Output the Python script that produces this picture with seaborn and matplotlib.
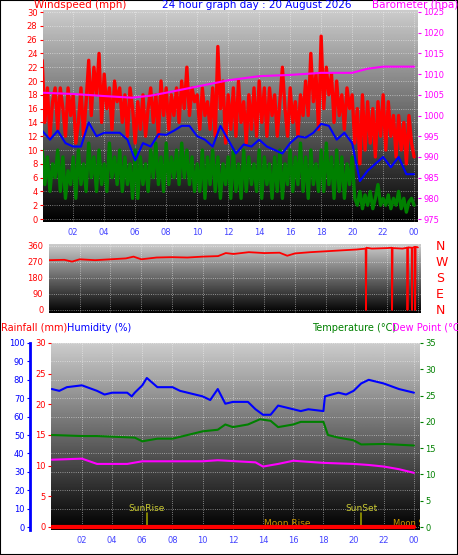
import numpy as np
import pandas as pd
import seaborn as sns
import matplotlib
matplotlib.use("Agg")
import matplotlib.pyplot as plt

sns.set_style("white")
plt.rcParams['font.family'] = ['DejaVu Sans']

# ---- wind / barometer (top panel) ----
avg_hours = np.arange(0, 24.5, 0.5)
avg_wind = [12.8, 11.5, 12.8, 11.0, 10.5, 10.5, 14.0, 12.0, 12.5, 12.5, 12.5, 11.5,
            8.5, 11.0, 10.5, 12.3, 12.2, 12.8, 13.5, 13.5, 12.0, 11.5, 10.5, 13.5,
            11.5, 9.5, 10.8, 10.5, 11.5, 10.5, 10.0, 9.5, 11.0, 12.0, 11.8, 12.5,
            13.8, 13.5, 11.5, 12.5, 11.0, 5.5, 7.0, 8.0, 9.0, 7.5, 9.0, 6.5, 6.5]

# 10 minute samples
wind_hours = np.arange(145) / 6
gust = [23, 14, 19, 12, 17, 19, 13, 19, 16, 12, 19, 15, 18, 11, 14, 19, 12, 17,
        23, 15, 22, 18, 24, 14, 21, 16, 19, 13, 20, 17, 19, 14, 18, 12, 19, 16,
        11, 17, 13, 18, 12, 16, 19, 14, 18, 12, 20, 15, 19, 13, 18, 15, 19, 14,
        20, 16, 22, 15, 19, 17, 18, 13, 19, 15, 17, 13, 19, 12, 25, 16, 20, 11,
        18, 13, 19, 12, 20, 14, 17, 11, 18, 13, 19, 12, 20, 14, 19, 12, 19, 15,
        18, 12, 17, 22, 16, 12, 19, 14, 17, 12, 18, 15, 20, 15, 24, 17, 21, 13,
        26.5, 16, 22, 18, 21, 14, 20, 15, 18, 13, 19, 16, 18, 11, 16, 8, 18, 10,
        17, 11, 16, 9, 17, 12, 18, 10, 17, 12, 15, 9, 15, 10, 14, 8, 15, 11, 9]
speed = [10, 5, 9, 4, 8, 6, 10, 4, 9, 3, 7, 5, 9, 3, 10, 5, 8, 4,
         11, 6, 9, 4, 10, 5, 8, 4, 11, 6, 9, 5, 10, 4, 9, 5, 8, 3,
         10, 3, 9, 5, 8, 4, 10, 6, 11, 5, 9, 4, 11, 5, 9, 6, 10, 5,
         11, 6, 10, 5, 9, 4, 8, 4, 10, 3, 9, 5, 10, 4, 9, 3, 8, 5,
         9, 3, 10, 4, 8, 3, 10, 4, 9, 5, 8, 4, 10, 3, 9, 5, 8, 3,
         9, 4, 10, 3, 8, 5, 10, 4, 9, 5, 11, 4, 9, 3, 10, 5, 8, 4,
         10, 4, 11, 5, 9, 3, 10, 4, 9, 3, 8, 5, 9, 3, 2, 4, 1.5, 3.5,
         2, 4, 1.5, 3, 5, 2, 3, 2, 3.5, 1.5, 3, 2, 4, 1.5, 3, 1, 2.5, 3, 2]

baro_hours = [0, 2, 4, 5.8, 7, 8, 10, 12, 14, 16, 18, 20, 21, 22, 24]
baro = [1005.5, 1005.2, 1004.7, 1004.3, 1004.8, 1005.5, 1007.0, 1008.5, 1009.5,
        1009.8, 1010.3, 1010.3, 1011.3, 1011.8, 1011.8]

# ---- wind direction (middle panel) ----
dir_hours = [0, 1, 1.5, 2, 3, 4, 5, 5.5, 6, 7, 8, 9, 10, 11, 11.5, 12, 13, 14, 15, 15.5,
             16, 17, 18, 19, 20, 20.6, 20.62, 20.65, 21, 22, 22.3, 22.32, 22.35, 23, 23.3,
             23.32, 23.35, 23.6, 23.62, 23.65, 23.8, 23.82, 23.85, 24]
direction = [280, 282, 272, 285, 280, 285, 290, 300, 285, 295, 297, 295, 300, 303, 320,
             315, 325, 320, 322, 305, 318, 325, 330, 335, 340, 345, 0, 350, 345, 348, 350,
             0, 348, 345, 350, 0, 352, 350, 0, 350, 355, 0, 355, 352]

# ---- humidity / temperature / dew point / rain (bottom panel) ----
hum_hours = [0, 0.5, 1, 2, 3, 3.5, 4, 5, 5.3, 5.5, 6, 6.3, 7, 8, 8.5, 9, 10, 10.5, 11, 11.5,
             12, 13, 13.5, 14, 14.5, 15, 16, 16.5, 17, 18, 18.1, 19, 19.5, 20, 20.5, 21,
             22, 23, 24]
humidity = [75, 74, 76, 77, 74, 72, 73, 73, 71, 73, 77, 81, 76, 76, 74, 73, 71, 69, 75, 67,
            68, 68, 64, 61, 61, 66, 64, 63, 64, 63, 71, 73, 72, 74, 78, 80, 78, 75, 73]

temp_hours = [0, 2, 3, 5.5, 6, 7, 8, 9, 10, 11, 11.5, 12, 13, 13.8, 14.5, 15, 16, 16.5,
              18, 18.3, 19, 20, 20.5, 22, 24]
temperature = [17.5, 17.3, 17.3, 17.0, 16.3, 16.8, 16.8, 17.5, 18.2, 18.5, 19.5, 19.0,
               19.5, 20.5, 20.2, 19.0, 19.5, 20.0, 20.0, 17.5, 17.0, 16.5, 15.7, 15.8, 15.5]

dew_hours = [0, 2, 3, 5, 6, 10, 11, 13.5, 14, 15, 16, 18, 20, 21, 22, 23, 24]
dewpoint = [12.8, 13.0, 12.0, 12.0, 12.5, 12.5, 12.7, 12.3, 11.5, 12.0, 12.6, 12.2,
            12.0, 11.8, 11.5, 11.0, 10.3]

rain_hours = [0, 24]
rain = [0, 0]

hour_ticks = list(range(2, 25, 2))
hour_labels = ["%02d" % (h % 24) for h in hour_ticks]

W, H = 458, 555
fig = plt.figure(figsize=(W / 100, H / 100), dpi=100)
fig.patch.set_facecolor("white")


def box(x0, y0, x1, y1):
    return [x0 / W, 1 - y1 / H, (x1 - x0) / W, (y1 - y0) / H]


grad = np.linspace(0.80, 0.0, 256).reshape(-1, 1)


def backdrop(ax):
    ax.imshow(grad, cmap="gray", vmin=0, vmax=1, aspect="auto",
              extent=[*ax.get_xlim(), *ax.get_ylim()], origin="upper", zorder=0)
    ax.grid(True, color="white", ls=":", lw=0.6, alpha=0.6)
    for s in ax.spines.values():
        s.set_visible(False)


fs = 6
# top panel
ax1 = fig.add_axes(box(43, 10, 418, 222))
ax1.set_xlim(0.05, 24.25)
ax1.set_ylim(-0.43, 30.29)
ax1.set_yticks(range(0, 31, 2))
ax1.set_xticks(hour_ticks)
ax1.set_xticklabels(hour_labels)
backdrop(ax1)
ax1.plot(wind_hours, gust, color="red", lw=2.4, zorder=2)
ax1.plot(wind_hours, speed, color="green", lw=2.4, zorder=3)
sns.lineplot(x=avg_hours, y=avg_wind, ax=ax1, color="blue", lw=1.5, zorder=4)
ax1.tick_params(axis="y", colors="red", labelsize=fs, length=2, pad=2)
ax1.tick_params(axis="x", colors="#4444ff", labelsize=fs, length=2, pad=2)
ax1b = ax1.twinx()
ax1b.set_ylim(975 - 0.72, 1025 + 0.48)
ax1b.set_yticks(range(975, 1026, 5))
sns.lineplot(x=baro_hours, y=baro, ax=ax1b, color="magenta", lw=1.5)
ax1b.tick_params(axis="y", colors="magenta", labelsize=fs, length=2, pad=2)
for s in ax1b.spines.values():
    s.set_visible(False)
ax1b.set_ylabel("")

fig.text(34 / W, 1 - 8 / H, "Windspeed (mph)", color="red", fontsize=7.5)
fig.text(257 / W, 1 - 8 / H, "24 hour graph day : 20 August 2026", color="blue",
         fontsize=7.5, ha="center")
fig.text(372 / W, 1 - 8 / H, "Barometer (hpa)", color="magenta", fontsize=7.5)

# middle panel
ax2 = fig.add_axes(box(49, 244, 421, 313))
ax2.set_xlim(0, 24.2)
ax2.set_ylim(-16.9, 371)
ax2.set_yticks([0, 90, 180, 270, 360])
ax2.set_xticks(hour_ticks)
ax2.set_xticklabels([])
backdrop(ax2)
ax2.plot(dir_hours, direction, color="red", lw=1.3, zorder=3)
ax2.tick_params(axis="y", colors="red", labelsize=fs, length=2, pad=2)
ax2.tick_params(axis="x", length=0)
for i, lab in enumerate(["N", "W", "S", "E", "N"]):
    fig.text(436 / W, 1 - (246 + i * 16) / H, lab, color="red", fontsize=9,
             va="center")

fig.text(1 / W, 1 - 331 / H, "Rainfall (mm)", color="red", fontsize=7)
fig.text(67 / W, 1 - 331 / H, "Humidity (%)", color="blue", fontsize=7)
fig.text(312 / W, 1 - 331 / H, "Temperature (°C)", color="green", fontsize=7)
fig.text(392 / W, 1 - 331 / H, "Dew Point (°C", color="magenta", fontsize=7)

# bottom panel
ax3 = fig.add_axes(box(51, 343, 420, 530))
ax3.set_xlim(-0.05, 24.4)
ax3.set_ylim(-1.6, 100)
ax3.set_yticks(range(0, 101, 10))
ax3.set_xticks(hour_ticks)
ax3.set_xticklabels(hour_labels)
backdrop(ax3)
ax3.spines["left"].set_visible(True)
ax3.spines["left"].set_position(("outward", 21 * 0.72))
ax3.spines["left"].set_color("blue")
ax3.spines["left"].set_linewidth(2)
sns.lineplot(x=hum_hours, y=humidity, ax=ax3, color="blue", lw=1.5, zorder=4)
ax3.tick_params(axis="y", colors="blue", labelsize=fs, length=2, pad=2)
ax3.tick_params(axis="x", colors="#4444ff", labelsize=fs, length=2, pad=2)

ax3r = ax3.twinx()
ax3r.set_ylim(-0.49, 30)
ax3r.set_yticks(range(0, 31, 5))
ax3r.yaxis.tick_left()
ax3r.yaxis.set_label_position("left")
ax3r.plot(rain_hours, rain, color="red", lw=3, zorder=5)
ax3r.tick_params(axis="y", colors="red", labelsize=fs, length=2, pad=2)
for s in ax3r.spines.values():
    s.set_visible(False)

ax3t = ax3.twinx()
ax3t.set_ylim(-0.57, 35)
ax3t.set_yticks(range(0, 36, 5))
sns.lineplot(x=temp_hours, y=temperature, ax=ax3t, color="green", lw=1.5)
sns.lineplot(x=dew_hours, y=dewpoint, ax=ax3t, color="magenta", lw=1.5)
ax3t.tick_params(axis="y", colors="green", labelsize=fs, length=2, pad=2)
for s in ax3t.spines.values():
    s.set_visible(False)
ax3t.set_ylabel("")
ax3r.set_ylabel("")

for h, lab in [(6.3, "SunRise"), (20.5, "SunSet")]:
    ax3.plot([h, h], [0, 7.5], color="#999900", lw=1.2, zorder=5)
    ax3.text(h, 8.5, lab, color="#cccc33", fontsize=6.5, ha="center", zorder=6)
ax3.text(15.6, 0.5, "Moon Rise", color="#cc9900", fontsize=6.5, ha="center", zorder=6)
ax3.text(22.6, 0.5, "Moon Set", color="#cc9900", fontsize=6, ha="left", zorder=6,
         clip_on=True)

fig.patches.append(plt.Rectangle((0, 0), 1, 1, transform=fig.transFigure,
                                 fill=False, ec="black", lw=1.5))
fig.savefig("out.png", dpi=100)
